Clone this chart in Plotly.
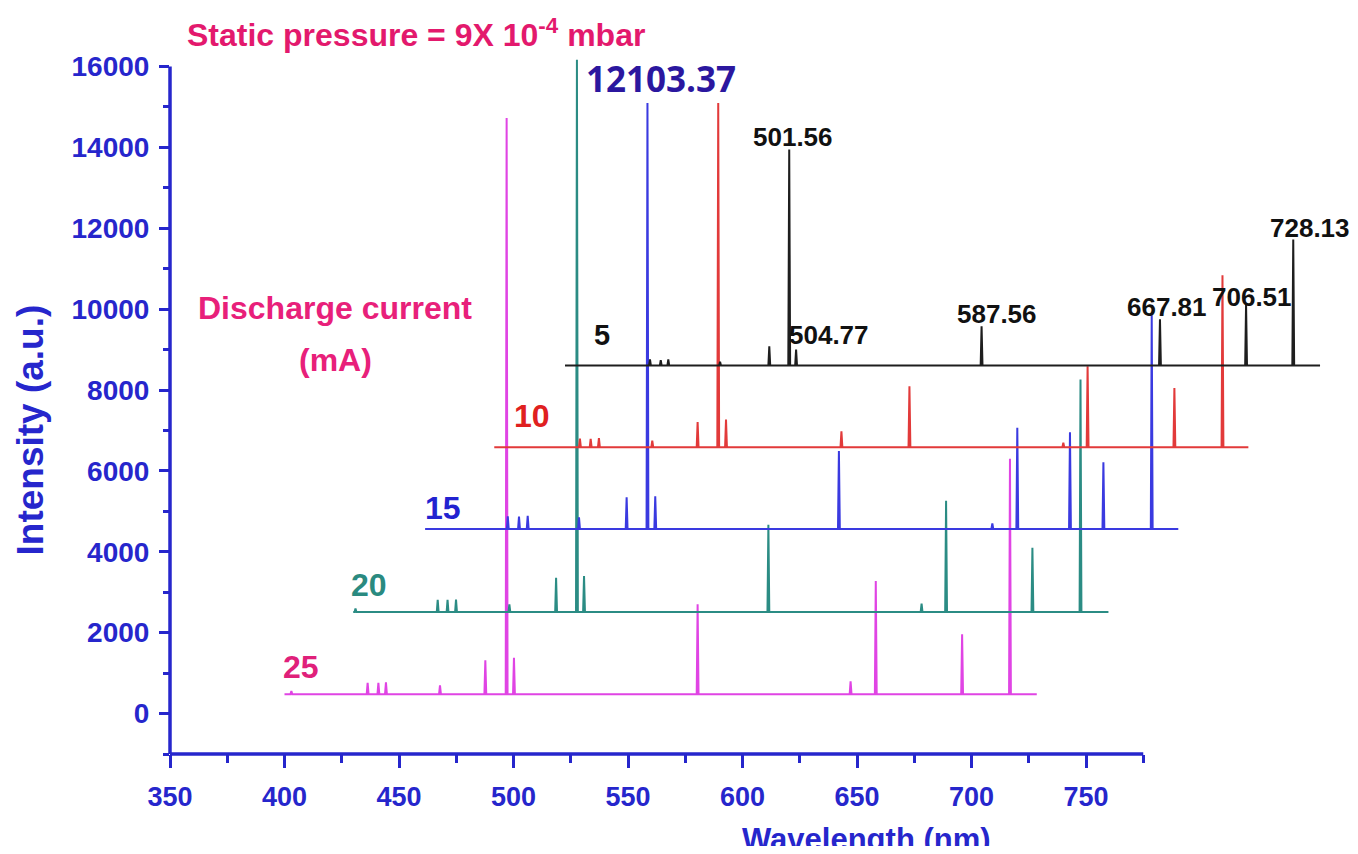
import plotly.graph_objects as go

# ---------------- data (axis coordinates) ----------------
# Discharge current 25 mA (magenta)
span_25 = [400.0, 728.5]
base_25 = 480
wl_25 = [403.0, 436.3, 441.0, 444.3, 467.9, 487.7, 497.0, 500.2, 580.4, 647.2, 658.2, 695.9, 716.8]
int_25 = [560, 760, 760, 770, 700, 1320, 14730, 1380, 2700, 800, 3280, 1960, 6300]

# Discharge current 20 mA (teal)
span_20 = [430.0, 759.8]
base_20 = 2510
wl_20 = [431.0, 466.9, 471.2, 474.9, 498.2, 518.6, 527.7, 530.8, 611.3, 678.2, 688.9, 726.6, 747.6]
int_20 = [2600, 2810, 2810, 2820, 2700, 3355, 16170, 3400, 4670, 2720, 5260, 4100, 8260]

# Discharge current 15 mA (blue)
span_15 = [461.4, 790.3]
base_15 = 4566
wl_15 = [497.5, 502.4, 506.2, 528.6, 549.4, 558.5, 561.9, 642.1, 709.1, 720.0, 743.0, 757.6, 778.7]
int_15 = [4880, 4870, 4890, 4850, 5350, 15100, 5375, 6490, 4700, 7065, 6957, 6214, 9850]

# Discharge current 10 mA (red)
span_10 = [491.6, 820.9]
base_10 = 6587
wl_10 = [529.0, 533.7, 537.3, 560.6, 580.4, 589.4, 592.8, 643.2, 672.9, 740.1, 750.7, 788.6, 809.6]
int_10 = [6800, 6790, 6810, 6750, 7210, 15100, 7270, 6980, 8094, 6700, 8590, 8053, 10840]

# Discharge current 5 mA (black)
span_5 = [522.5, 852.2]
base_5 = 8605
wl_5 = [559.6, 564.3, 567.6, 590.2, 611.7, 620.4, 623.4, 704.4, 782.3, 819.9, 840.5]
int_5 = [8760, 8740, 8760, 8700, 9083, 13950, 9000, 9578, 9750, 10114, 11721]

# trace labels (current, mA) and positions
current_labels = ["25", "20", "15", "10", "5"]
current_label_x = [407.2, 436.9, 469.2, 508.1, 538.6]
current_label_y = [1162, 3190, 5094, 7369, 9372]

# peak labels on the 5 mA spectrum
peak_labels = ["501.56", "504.77", "587.56", "667.81", "706.51", "728.13"]
peak_label_x = [622.1, 637.8, 711.1, 785.4, 822.5, 847.8]
peak_label_y = [14268, 9372, 9891, 10064, 10312, 12018]

x_tick_vals = [350, 400, 450, 500, 550, 600, 650, 700, 750]
x_minor_vals = [375, 425, 475, 525, 575, 625, 675, 725, 775]
y_tick_vals = [0, 2000, 4000, 6000, 8000, 10000, 12000, 14000, 16000]
y_minor_vals = [-1000, 1000, 3000, 5000, 7000, 9000, 11000, 13000, 15000]

# ---------------- styling ----------------
colors = {"25": "#e044e4", "20": "#2b8c84", "15": "#3a3ae0", "10": "#e23a3a", "5": "#1e1e1e"}
label_colors = {"25": "#e0207a", "20": "#2a8a80", "15": "#2222d0", "10": "#e02020", "5": "#111111"}
AXIS_BLUE = "#2626cc"
BOLD = "Liberation Sans, Arial, sans-serif"

# page body has an 8px margin: figure is 1342x838 so it fits a 1358x854 window
FIG_W, FIG_H = 1342, 838
M_L, M_T, M_B = 162, 50, 92
PX_PER_NM = 2.29
PX_PER_UNIT = 0.04044
X_MIN = 350.0
X_MAX = X_MIN + (FIG_W - M_L) / PX_PER_NM
Y_MIN = -1000.0
Y_MAX = Y_MIN + (FIG_H - M_T - M_B) / PX_PER_UNIT
PLOT_W = FIG_W - M_L


def stick_spectrum(span, base, wl, inten, hw=0.4):
    xs = [span[0]]
    ys = [base]
    for p, h in sorted(zip(wl, inten)):
        xs += [p - hw, p, p + hw]
        ys += [base, h, base]
    xs.append(span[1])
    ys.append(base)
    return xs, ys


series = [
    ("25", span_25, base_25, wl_25, int_25),
    ("20", span_20, base_20, wl_20, int_20),
    ("15", span_15, base_15, wl_15, int_15),
    ("10", span_10, base_10, wl_10, int_10),
    ("5", span_5, base_5, wl_5, int_5),
]

fig = go.Figure()
for name, span, base, wl, inten in series:
    xs, ys = stick_spectrum(span, base, wl, inten)
    fig.add_trace(go.Scatter(x=xs, y=ys, mode="lines", name=name + " mA",
                             line=dict(color=colors[name], width=2),
                             showlegend=False, hoverinfo="skip"))

annotations = []
for lab, lx, ly in zip(current_labels, current_label_x, current_label_y):
    annotations.append(dict(x=lx, y=ly, xref="x", yref="y", text="<b>" + lab + "</b>",
                            showarrow=False,
                            font=dict(family=BOLD, size=32 if lab != "5" else 29,
                                      color=label_colors[lab]),
                            xanchor="center", yanchor="middle"))
for lab, lx, ly in zip(peak_labels, peak_label_x, peak_label_y):
    annotations.append(dict(x=lx, y=ly, xref="x", yref="y", text="<b>" + lab + "</b>",
                            showarrow=False, font=dict(family=BOLD, size=26, color="#111111"),
                            xanchor="center", yanchor="middle"))

annotations.append(dict(x=564.4, y=15702, xref="x", yref="y", text="<b>12103.37</b>",
                        showarrow=False, font=dict(family="Open Sans, Noto Sans, sans-serif",
                                                    size=35, color="#2b179f", weight=800),
                        xanchor="center", yanchor="middle"))
annotations.append(dict(x=422.1, y=10040, xref="x", yref="y", text="<b>Discharge current</b>",
                        showarrow=False, font=dict(family=BOLD, size=32, color="#e8207a"),
                        xanchor="center", yanchor="middle"))
annotations.append(dict(x=422.1, y=8754, xref="x", yref="y", text="<b>(mA)</b>",
                        showarrow=False, font=dict(family=BOLD, size=32, color="#e8207a"),
                        xanchor="center", yanchor="middle"))
# title (above the plot area)
annotations.append(dict(x=457.4, y=(16840 - Y_MIN) / (Y_MAX - Y_MIN), xref="x", yref="paper",
                        text="<b>Static pressure = 9X 10<sup>-4</sup> mbar</b>",
                        showarrow=False, font=dict(family=BOLD, size=32, color="#e3196d"),
                        xanchor="center", yanchor="middle"))
# axis titles
annotations.append(dict(x=654.0, y=(-3120 - Y_MIN) / (Y_MAX - Y_MIN), xref="x", yref="paper",
                        text="<b>Wavelength (nm)</b>", showarrow=False,
                        font=dict(family=BOLD, size=31, color=AXIS_BLUE),
                        xanchor="center", yanchor="middle"))
annotations.append(dict(x=-140.0 / PLOT_W, y=(7000 - Y_MIN) / (Y_MAX - Y_MIN),
                        xref="paper", yref="paper",
                        text="<b>Intensity (a.u.)</b>", showarrow=False, textangle=-90,
                        font=dict(family=BOLD, size=37, color=AXIS_BLUE),
                        xanchor="center", yanchor="middle"))

x_end_paper = (775 - X_MIN) / (X_MAX - X_MIN)
y_end_paper = (16000 - Y_MIN) / (Y_MAX - Y_MIN)
shapes = [
    dict(type="line", xref="paper", yref="paper", x0=0, x1=x_end_paper, y0=0, y1=0,
         line=dict(color=AXIS_BLUE, width=3.5)),
    dict(type="line", xref="paper", yref="paper", x0=0, x1=0, y0=0, y1=y_end_paper,
         line=dict(color=AXIS_BLUE, width=3.5)),
]

fig.update_layout(
    width=FIG_W, height=FIG_H,
    margin=dict(l=M_L, r=0, t=M_T, b=M_B, autoexpand=False),
    paper_bgcolor="white", plot_bgcolor="white",
    annotations=annotations, shapes=shapes,
    xaxis=dict(range=[X_MIN, X_MAX], showgrid=False, zeroline=False, showline=False,
               tickmode="array", tickvals=x_tick_vals,
               ticktext=["<b>%d</b>" % v for v in x_tick_vals],
               ticks="outside", ticklen=13, tickwidth=2.5, tickcolor=AXIS_BLUE,
               ticklabelstandoff=6,
               tickfont=dict(family=BOLD, size=27, color=AXIS_BLUE),
               minor=dict(tickmode="array", tickvals=x_minor_vals, ticks="outside",
                          ticklen=8, tickwidth=2.5, tickcolor=AXIS_BLUE, showgrid=False)),
    yaxis=dict(range=[Y_MIN, Y_MAX], showgrid=False, zeroline=False, showline=False,
               tickmode="array", tickvals=y_tick_vals,
               ticktext=["<b>%d</b>" % v for v in y_tick_vals],
               ticks="outside", ticklen=10, tickwidth=2.5, tickcolor=AXIS_BLUE,
               ticklabelstandoff=4,
               tickfont=dict(family=BOLD, size=28, color=AXIS_BLUE),
               minor=dict(tickmode="array", tickvals=y_minor_vals, ticks="outside",
                          ticklen=6, tickwidth=2.5, tickcolor=AXIS_BLUE, showgrid=False)),
)

fig.write_html("out.html")
